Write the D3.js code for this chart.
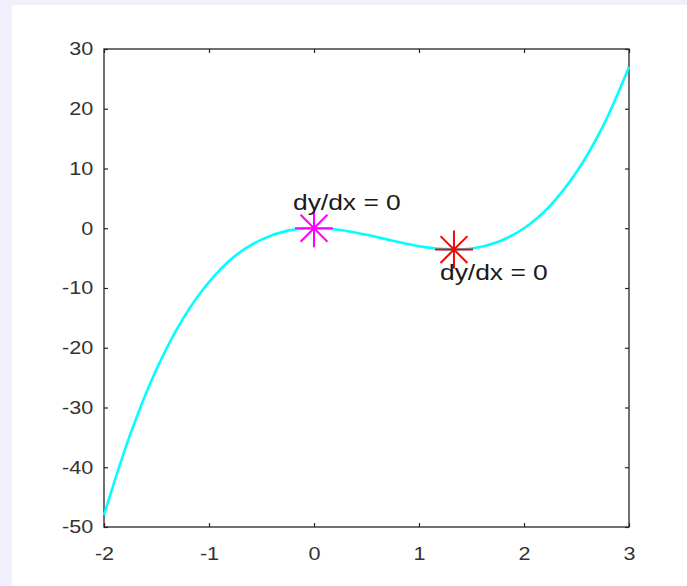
<!DOCTYPE html>
<html>
<head>
<meta charset="utf-8">
<script src="https://cdn.jsdelivr.net/npm/d3@7"></script>
<style>
  html, body { margin: 0; padding: 0; background: #f0f0fc; }
  #chart { position: absolute; left: 12px; top: 5px; }
</style>
</head>
<body>
<div id="chart"></div>
<script>
// data
var xValues = [-2, -1.75, -1.5, -1.25, -1, -0.75, -0.5, -0.25, 0, 0.25, 0.5, 0.75, 1,
               1.25, 1.5, 1.75, 2, 2.25, 2.5, 2.75, 3];
var yValues = [-48, -34.5, -23.6, -15.2, -9, -4.6, -1.9, -0.4, 0, -0.3, -1.1, -2.1, -3,
               -3.5, -3.4, -2.3, 0, 3.8, 9.4, 17, 27];
var xTicks = [-2, -1, 0, 1, 2, 3];
var yTicks = [-50, -40, -30, -20, -10, 0, 10, 20, 30];
var markerX = [0, 1.333];
var markerY = [0, -3.56];
var markerColors = ["#ff00ff", "#ff0000"];
var noteX = [-0.2, 1.2];
var noteY = [3.1, -8.6];
var noteText = ["dy/dx = 0", "dy/dx = 0"];

// chart size, offset by the panel position
var w = 675, h = 581, ox = 12, oy = 5,
    svg = d3.select("#chart")
            .append("svg")
            .attr("width", w)
            .attr("height", h)
            .style("background", "#ffffff"),
    x = d3.scaleLinear().domain([-2, 3]).range([104 - ox, 629 - ox]),
    y = d3.scaleLinear().domain([-50, 30]).range([527 - oy, 49 - oy]);

var axisColor = "#262626";
var plain = function(d) { return String(d); };

function styleAxis(g) {
    g.select(".domain").remove();
    g.selectAll("line").attr("stroke", axisColor).attr("stroke-width", 1.2);
    g.selectAll("text")
        .attr("font-family", "Arial, 'Liberation Sans', sans-serif")
        .attr("font-size", "18px")
        .attr("fill", "#333333");
}

// bottom axis with labels
svg.append("g")
    .attr("transform", "translate(0," + y(-50) + ")")
    .call(d3.axisBottom(x).tickValues(xTicks).tickFormat(plain).tickSize(-4).tickSizeOuter(0).tickPadding(20))
    .call(styleAxis)
    .selectAll("text")
    .attr("transform", "scale(1.2,1)");

// left axis with labels
svg.append("g")
    .attr("transform", "translate(" + x(-2) + ",0)")
    .call(d3.axisLeft(y).tickValues(yTicks).tickFormat(plain).tickSize(-4).tickSizeOuter(0).tickPadding(9))
    .call(styleAxis)
    .selectAll("text")
    .attr("transform", "scale(1.2,1)");

// top and right axes, ticks only
svg.append("g")
    .attr("transform", "translate(0," + y(30) + ")")
    .call(d3.axisTop(x).tickValues(xTicks).tickSize(-4).tickSizeOuter(0).tickFormat(""))
    .call(styleAxis);
svg.append("g")
    .attr("transform", "translate(" + x(3) + ",0)")
    .call(d3.axisRight(y).tickValues(yTicks).tickSize(-4).tickSizeOuter(0).tickFormat(""))
    .call(styleAxis);

// axes box
svg.append("rect")
    .attr("x", x(-2))
    .attr("y", y(30))
    .attr("width", x(3) - x(-2))
    .attr("height", y(-50) - y(30))
    .attr("fill", "none")
    .attr("stroke", axisColor)
    .attr("stroke-width", 1.3);

// the curve
var line = d3.line()
    .x(function(d) { return x(d[0]); })
    .y(function(d) { return y(d[1]); })
    .curve(d3.curveCatmullRom.alpha(0.5));

svg.append("path")
    .datum(d3.zip(xValues, yValues))
    .attr("fill", "none")
    .attr("stroke", "#00ffff")
    .attr("stroke-width", 2.6)
    .attr("d", line);

// asterisk markers
var r = 19;
markerX.forEach(function(mx, i) {
    var cx = x(mx), cy = y(markerY[i]);
    var g = svg.append("g").attr("transform", "translate(" + cx + "," + cy + ")");
    [0, 45, 90, 135].forEach(function(a) {
        var rad = a * Math.PI / 180;
        g.append("line")
            .attr("x1", -r * Math.cos(rad))
            .attr("y1", -r * Math.sin(rad))
            .attr("x2", r * Math.cos(rad))
            .attr("y2", r * Math.sin(rad))
            .attr("stroke", markerColors[i])
            .attr("stroke-width", 2);
    });
});

// annotations
noteText.forEach(function(t, i) {
    svg.append("text")
        .attr("transform", "translate(" + x(noteX[i]) + "," + y(noteY[i]) + ") scale(1.2,1)")
        .attr("font-family", "Arial, 'Liberation Sans', sans-serif")
        .attr("font-size", "22px")
        .attr("fill", "#1a1a1a")
        .text(t);
});
</script>
</body>
</html>
